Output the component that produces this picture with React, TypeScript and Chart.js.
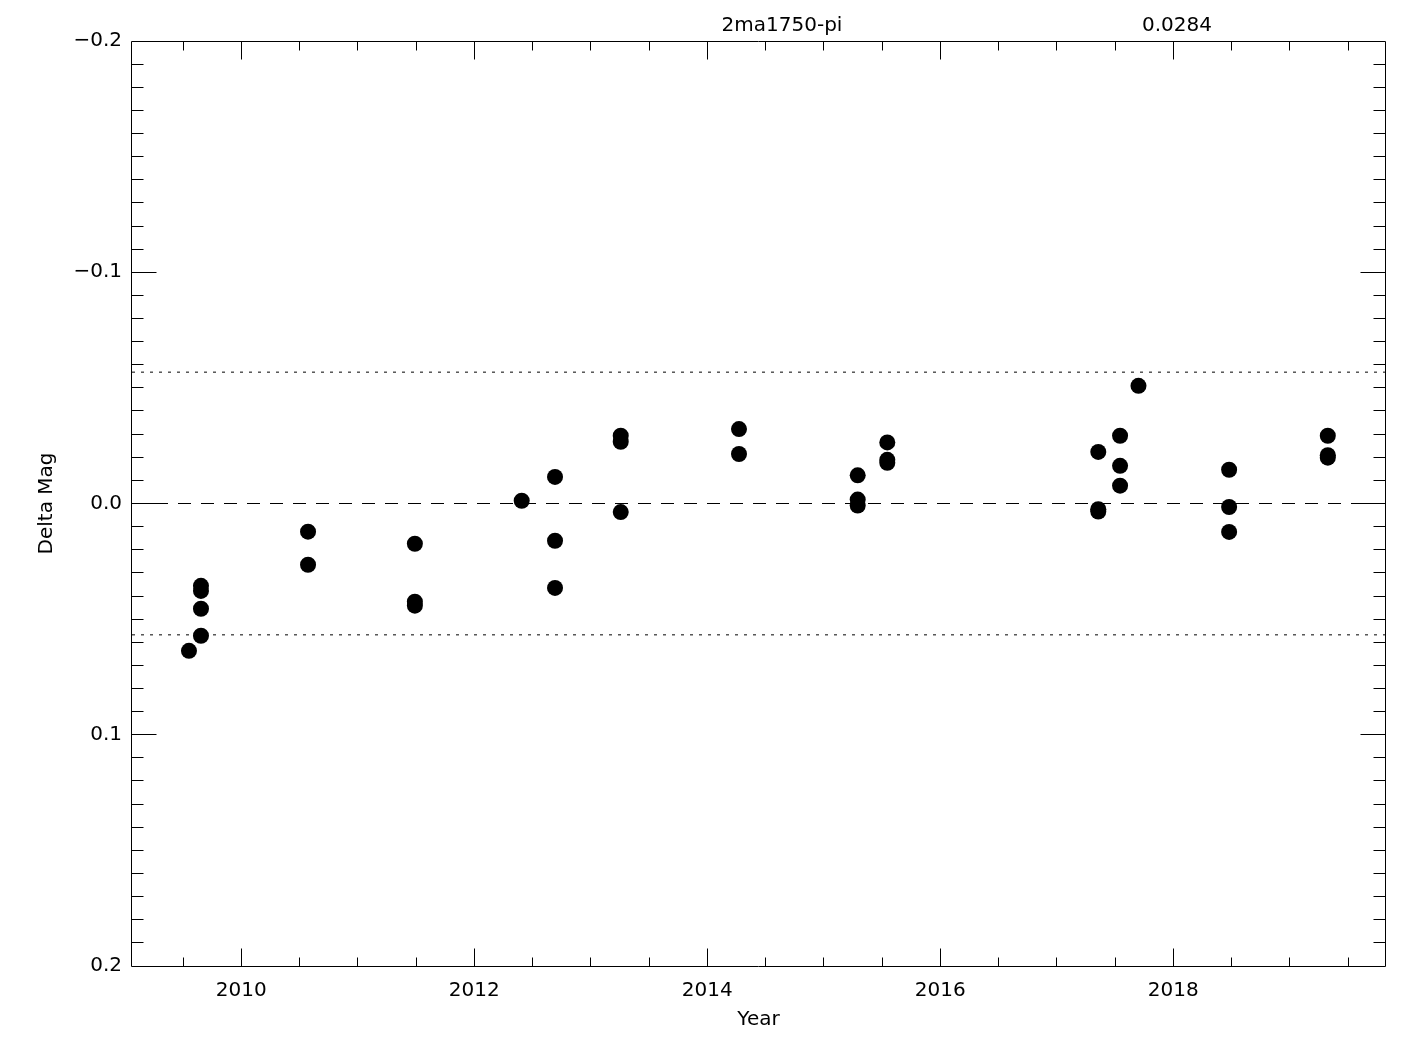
import React, { useEffect, useRef } from "react";
import { Chart, registerables } from "chart.js";

Chart.register(...registerables);

// ---- data ----
const years: number[] = [
  2009.551, 2009.654, 2009.654, 2009.654, 2009.654,
  2010.573, 2010.573,
  2011.49, 2011.49, 2011.49,
  2012.407,
  2012.693, 2012.693, 2012.693,
  2013.257, 2013.257, 2013.257,
  2014.272, 2014.272,
  2015.291, 2015.291, 2015.291,
  2015.545, 2015.545, 2015.545,
  2017.356, 2017.356, 2017.356,
  2017.543, 2017.543, 2017.543,
  2017.701,
  2018.479, 2018.479, 2018.479,
  2019.326, 2019.326, 2019.326,
];
const deltaMag: number[] = [
  0.0637, 0.0572, 0.0455, 0.0378, 0.0356,
  0.0122, 0.0265,
  0.0174, 0.0425, 0.0442,
  -0.0012,
  -0.0115, 0.0161, 0.0365,
  -0.0293, -0.0267, 0.0037,
  -0.0322, -0.0214,
  -0.0122, -0.0017, 0.0009,
  -0.0264, -0.0189, -0.0176,
  -0.0223, 0.0025, 0.0035,
  -0.0293, -0.0163, -0.0077,
  -0.0509,
  -0.0146, 0.0015, 0.0123,
  -0.0293, -0.0209, -0.0198,
];
const starName = "2ma1750-pi";
const sigma = 0.0284;
const sigmaLabel = "0.0284";
const xRange: number[] = [2009.062, 2019.817];
const yRange: number[] = [-0.2, 0.2];
const xLabelYears: number[] = [2010, 2012, 2014, 2016, 2018];
const yLabelValues: number[] = [-0.2, -0.1, 0.0, 0.1, 0.2];

const FONT = "'DejaVu Sans ExtraLight', 'DejaVu Sans', sans-serif";

const near = (a: number, b: number) => Math.abs(a - b) < 1e-6;

const framePlugin = {
  id: "idlFrame",
  afterDraw(chart: any) {
    const { ctx, chartArea } = chart;
    const xs = chart.scales.x;
    const ys = chart.scales.y;
    const L = chartArea.left, R = chartArea.right, T = chartArea.top, B = chartArea.bottom;
    ctx.save();
    ctx.strokeStyle = "#000";
    ctx.lineWidth = 1;
    ctx.beginPath();
    ctx.rect(L - 0.5, T + 0.5, R - L + 1, B - T);
    ctx.stroke();
    ctx.beginPath();
    xs.ticks.forEach((t: any) => {
      const v = t.value;
      const major = xLabelYears.some((y) => near(y, v));
      const len = major ? 18 : 9;
      const px = Math.floor(xs.getPixelForValue(v)) + 0.5;
      if (px <= L || px >= R) return;
      ctx.moveTo(px, B + 0.5);
      ctx.lineTo(px, B + 0.5 - len);
      ctx.moveTo(px, T + 0.5);
      ctx.lineTo(px, T + 0.5 + len);
    });
    ys.ticks.forEach((t: any) => {
      const v = t.value;
      const major = yLabelValues.some((y) => near(y, v));
      const len = major ? 25 : 12;
      const py = Math.floor(ys.getPixelForValue(v)) + 0.5;
      if (py <= T + 1 || py >= B) return;
      ctx.moveTo(L - 0.5, py);
      ctx.lineTo(L - 0.5 + len, py);
      ctx.moveTo(R + 0.5, py);
      ctx.lineTo(R + 0.5 - len, py);
    });
    ctx.stroke();
    // top annotations
    ctx.fillStyle = "#000";
    ctx.font = `20px ${FONT}`;
    ctx.textAlign = "center";
    ctx.textBaseline = "middle";
    ctx.fillText(starName, 782, 26);
    ctx.fillText(sigmaLabel, 1177, 26);
    ctx.restore();
  },
};

export default function App() {
  const ref = useRef<HTMLCanvasElement | null>(null);
  useEffect(() => {
    if (!ref.current) return;
    const pts = years.map((x, i) => ({ x, y: deltaMag[i] }));
    const hline = (v: number) => [
      { x: xRange[0], y: v },
      { x: xRange[1], y: v },
    ];
    const chart = new Chart(ref.current, {
      type: "scatter",
      data: {
        datasets: [
          {
            data: pts,
            backgroundColor: "#000",
            borderColor: "#000",
            borderWidth: 0,
            pointRadius: 8,
            pointHoverRadius: 8,
          },
          {
            data: hline(0),
            showLine: true,
            borderColor: "#000",
            borderWidth: 1,
            borderDash: [13, 10],
            pointRadius: 0,
          },
          {
            data: hline(-2 * sigma),
            showLine: true,
            borderColor: "#000",
            borderWidth: 1,
            borderDash: [3, 6],
            pointRadius: 0,
          },
          {
            data: hline(2 * sigma),
            showLine: true,
            borderColor: "#000",
            borderWidth: 1,
            borderDash: [3, 6],
            pointRadius: 0,
          },
        ],
      } as any,
      plugins: [framePlugin],
      options: {
        animation: false,
        responsive: false,
        devicePixelRatio: 1,
        layout: { padding: { top: 41, right: 40, left: 0, bottom: 0 } },
        plugins: { legend: { display: false }, tooltip: { enabled: false } },
        events: [],
        scales: {
          x: {
            type: "linear",
            position: "bottom",
            min: xRange[0],
            max: xRange[1],
            grid: { display: false, drawTicks: false },
            border: { display: false },
            afterFit: (s: any) => {
              s.height = 84;
            },
            ticks: {
              stepSize: 0.5,
              includeBounds: false,
              autoSkip: false,
              maxRotation: 0,
              maxTicksLimit: 1000,
              padding: 13,
              color: "#000",
              font: { family: FONT, size: 20 },
              callback: (v: any) => {
                const n = Number(v);
                return xLabelYears.some((y) => near(y, n)) ? String(Math.round(n)) : "";
              },
            },
            title: {
              display: true,
              text: "Year",
              color: "#000",
              font: { family: FONT, size: 20 },
              padding: { top: 0, bottom: 18 },
            },
          },
          y: {
            type: "linear",
            position: "left",
            min: yRange[0],
            max: yRange[1],
            reverse: true,
            grid: { display: false, drawTicks: false },
            border: { display: false },
            afterFit: (s: any) => {
              s.width = 132;
            },
            ticks: {
              stepSize: 0.01,
              includeBounds: false,
              autoSkip: false,
              maxTicksLimit: 1000,
              padding: 10,
              color: "#000",
              font: { family: FONT, size: 20 },
              callback: (v: any) => {
                const n = Number(v);
                if (!yLabelValues.some((y) => near(y, n))) return "";
                const s = Math.abs(n).toFixed(1);
                return n < -1e-9 ? "\u2212" + s : s;
              },
            },
            title: {
              display: true,
              text: "Delta Mag",
              color: "#000",
              font: { family: FONT, size: 20 },
              padding: { top: 35, bottom: 0 },
            },
          },
        },
      } as any,
    });
    return () => chart.destroy();
  }, []);
  return (
    <div style={{ position: "fixed", left: 0, top: 0, width: 1425, height: 1050, background: "#fff" }}>
      <canvas ref={ref} width={1425} height={1050} style={{ width: 1425, height: 1050, display: "block" }} />
    </div>
  );
}
